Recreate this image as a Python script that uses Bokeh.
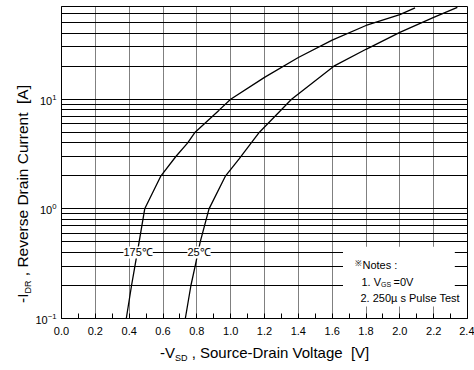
from bokeh.plotting import figure
from bokeh.layouts import row, column
from bokeh.models import (FixedTicker, PrintfTickFormatter, Label,
                          BoxAnnotation, LogTickFormatter, Div)
from bokeh.embed import file_html
from bokeh.resources import INLINE

# ---------------- data ----------------
x_ticks = [0.0, 0.2, 0.4, 0.6, 0.8, 1.0, 1.2, 1.4, 1.6, 1.8, 2.0, 2.2, 2.4]
x_minor = [0.1, 0.3, 0.5, 0.7, 0.9, 1.1, 1.3, 1.5, 1.7, 1.9, 2.1, 2.3]
y_ticks = [0.1, 1, 10]
y_minor = [0.2, 0.3, 0.4, 0.5, 0.6, 0.7, 0.8, 0.9,
           2, 3, 4, 5, 6, 7, 8, 9,
           20, 30, 40, 50, 60]

v_175 = [0.383, 0.414, 0.434, 0.459, 0.492, 0.588, 0.676, 0.746, 0.79, 0.93,
         1.00, 1.20, 1.40, 1.60, 1.80, 2.00, 2.09]
i_175 = [0.1, 0.2, 0.3, 0.5, 1.0, 2.0, 3.0, 4.0, 5.0, 7.9,
         10, 15.8, 24, 34.5, 47, 59, 68]

v_25 = [0.732, 0.765, 0.79, 0.82, 0.872, 0.97, 1.05, 1.17, 1.36, 1.61,
        1.80, 2.00, 2.20, 2.34]
i_25 = [0.1, 0.2, 0.3, 0.5, 1.0, 2.0, 2.85, 5.0, 10, 20,
        28.5, 40.6, 55.6, 68.6]

FONT = "Liberation Sans"
W, H = 474, 370
LW = 32          # left strip (y title)
BH = 30          # bottom strip (x title)
MW, MH = W - LW, H - BH

# ---------------- main plot ----------------
p = figure(width=MW, height=MH, y_axis_type="log",
           x_range=(0, 2.4), y_range=(0.1, 70),
           output_backend="svg", toolbar_location=None,
           min_border_left=57 - LW, min_border_right=7,
           min_border_top=6, min_border_bottom=MH - 318)
p.background_fill_color = "white"
p.border_fill_color = "white"
p.outline_line_color = "black"
p.outline_line_width = 1

xa = p.xaxis[0]
xa.ticker = FixedTicker(ticks=x_ticks, minor_ticks=x_minor)
xa.formatter = PrintfTickFormatter(format="%.1f")
xa.major_tick_in = 5
xa.major_tick_out = 0
xa.minor_tick_in = 5
xa.minor_tick_out = 0
xa.axis_line_color = "black"
xa.major_tick_line_color = "black"
xa.minor_tick_line_color = "black"
xa.major_label_text_font = FONT
xa.major_label_text_font_size = "11px"
xa.major_label_text_color = "black"
xa.major_label_standoff = 8

ya = p.yaxis[0]
ya.ticker = FixedTicker(ticks=y_ticks, minor_ticks=y_minor)
ya.formatter = LogTickFormatter()
ya.major_tick_in = 0
ya.major_tick_out = 0
ya.minor_tick_in = 0
ya.minor_tick_out = 0
ya.axis_line_color = "black"
ya.major_label_text_font = FONT
ya.major_label_text_font_size = "11px"
ya.major_label_text_color = "black"
ya.major_label_standoff = 5

p.xgrid.grid_line_color = "black"
p.xgrid.grid_line_dash = "1 1"
p.xgrid.grid_line_width = 1
p.ygrid.grid_line_color = "black"
p.ygrid.grid_line_width = 1
p.ygrid.minor_grid_line_color = "black"
p.ygrid.minor_grid_line_width = 1

p.line(v_175, i_175, line_color="black", line_width=1.3)
p.line(v_25, i_25, line_color="black", line_width=1.3)

FL, FB = 57, 318
def sx(cx):
    return cx - FL
def sy(cy):
    return FB - cy

def lab(text, cx, cy, size):
    p.add_layout(Label(x=sx(cx), y=sy(cy), x_units="screen", y_units="screen",
                       text=text, text_font=FONT, text_font_size=size,
                       text_color="black",
                       text_align="left", text_baseline="alphabetic"))

# temperature labels
for txt, xv in (("175\u2103", 0.453), ("25\u2103", 0.813)):
    p.add_layout(Label(x=xv, y=0.4, text=txt, text_font=FONT,
                       text_font_size="11px", text_color="black",
                       text_align="center", text_baseline="middle",
                       background_fill_color="white"))

# notes box
p.add_layout(BoxAnnotation(left=1.664, right=2.325, top=0.452, bottom=0.1285,
                           fill_color="white", fill_alpha=1.0,
                           line_color=None))
lab("\u203b", 350, 263, "8px")
lab("Notes :", 358, 264, "11px")
lab("1. V", 357, 281, "11px")
lab("GS", 376.6, 283.5, "7px")
lab("=0V", 389, 281, "11px")
lab("2. 250\u00b5 s Pulse Test", 356, 297, "11px")

# ---------------- axis titles (HTML, with real subscripts) ----------------
SUB = "font-size:9px; vertical-align:-3px; line-height:0;"

x_title = Div(
    width=MW, height=BH, margin=(0, 0, 0, 0),
    text=(f'<div style="font-family:\'{FONT}\'; font-size:15px; '
          f'line-height:18px; white-space:nowrap; color:black; '
          f'box-sizing:border-box; padding-left:{160 - LW}px; '
          f'padding-top:3.8px; margin:0;">'
          f'-V<sub style="{SUB}">SD</sub>&nbsp;, Source-Drain Voltage'
          f'&nbsp;&nbsp;[V]</div>'))

y_title = Div(
    width=LW, height=H, margin=(0, 0, 0, 0),
    text=(f'<div style="width:{H}px; height:{LW}px; transform-origin:0 0; '
          f'transform:translate(0px,{H}px) rotate(-90deg); '
          f'font-family:\'{FONT}\'; font-size:15.5px; line-height:18px; '
          f'white-space:nowrap; color:black; box-sizing:border-box; '
          f'padding-left:{H - 303}px; padding-top:13.6px; margin:0;">'
          f'-I<sub style="{SUB}">DR</sub>&nbsp;, Reverse Drain Current'
          f'&nbsp;&nbsp;[A]</div>'))

layout = row(y_title, column(p, x_title))
open("out.html", "w").write(file_html(layout, INLINE))
